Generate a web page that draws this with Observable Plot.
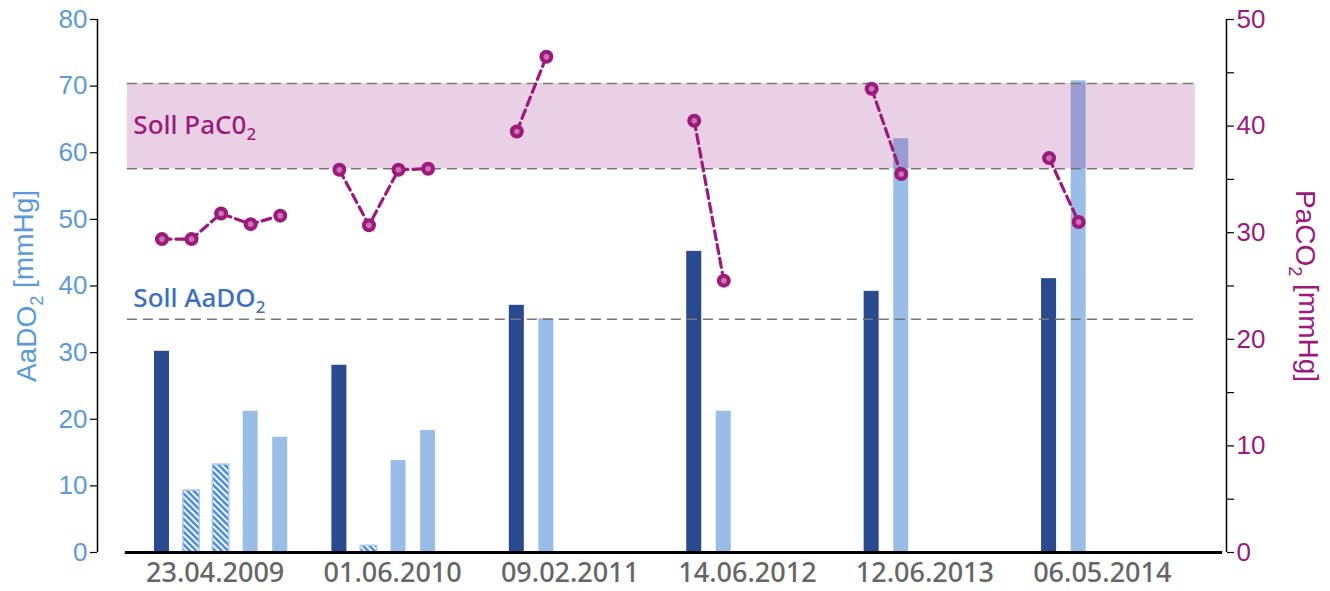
<!DOCTYPE html>
<html>
<head>
<meta charset="utf-8">
<script src="https://cdn.jsdelivr.net/npm/d3@7"></script>
<script src="https://cdn.jsdelivr.net/npm/@observablehq/plot@0.6"></script>
<style>
  html, body { margin: 0; padding: 0; background: #fff; }
  #chart svg { display: block; }
</style>
</head>
<body>
<div id="chart"></div>
<script>
// ---- data ----
const dates = ["23.04.2009", "01.06.2010", "09.02.2011", "14.06.2012", "12.06.2013", "06.05.2014"];
const visit = [0, 0, 0, 0, 0, 1, 1, 1, 1, 2, 2, 3, 3, 4, 4, 5, 5];
const slot  = [0, 1, 2, 3, 4, 0, 1, 2, 3, 0, 1, 0, 1, 0, 1, 0, 1];
const kind  = ["dark", "hatched", "hatched", "light", "light",
               "dark", "hatched", "light", "light",
               "dark", "light", "dark", "light", "dark", "light", "dark", "light"];
const aado2 = [30.2, 9.3, 13.2, 21.2, 17.3, 28.1, 1.0, 13.8, 18.3, 37.1, 35.1, 45.2, 21.2, 39.2, 62.1, 41.1, 70.8];
const paco2 = [29.4, 29.4, 31.8, 30.8, 31.6, 35.9, 30.7, 35.9, 36.0, 39.5, 46.5, 40.5, 25.5, 43.5, 35.5, 37.0, 31.0];
const sollAaDO2 = 35;
const sollPaCO2 = [36, 44];
const leftTicks = [0, 10, 20, 30, 40, 50, 60, 70, 80];
const rightTicks = [0, 5, 10, 15, 20, 25, 30, 35, 40, 45, 50];
const rightLabelStep = 10;

// ---- layout constants ----
const slotsPerVisit = 6;
const xDomain = [-2.18, 36.0];
const baseExtent = [-1.24, 35.87];
const refExtent = [-1.17, 34.95];
const labelOffset = 1.8;
const yMax = 80, y2Max = 50, k = yMax / y2Max;

const C = {
  dark: "#294a8e", light: "#99bde7", hatchBlue: "#4b8ee0", hatchBorder: "#aacaef",
  magenta: "#9c1a7c", inner: "#c976b3", leftText: "#5b9ad8", sollBlue: "#3d6fbf",
  xText: "#666666", band: "#9b2a87", ref: "#777777"
};

const data = visit.map((v, i) => ({
  visit: v, s: v * slotsPerVisit + slot[i], kind: kind[i], aado2: aado2[i], paco2: paco2[i] * k
}));
const solid = data.filter(d => d.kind !== "hatched");
const hatched = data.filter(d => d.kind === "hatched");
const dateLabels = dates.map((t, i) => ({t, x: i * slotsPerVisit + labelOffset}));

const uiFont = "'Noto Sans', 'Open Sans', sans-serif";
const axisFont = "'Liberation Sans', Arial, sans-serif";

const chart = Plot.plot({
  width: 1330,
  height: 591,
  marginLeft: 97,
  marginRight: 104,
  marginTop: 19,
  marginBottom: 39,
  style: {fontFamily: axisFont, fontSize: "26px", background: "#fff"},
  x: {type: "linear", domain: xDomain, axis: null},
  y: {domain: [0, yMax], axis: null},
  marks: [
    // bars
    Plot.rectY(solid, {
      x1: d => d.s - 0.254, x2: d => d.s + 0.254, y1: 0, y2: "aado2",
      fill: d => d.kind === "dark" ? C.dark : C.light
    }),
    Plot.rectY(hatched, {
      x1: d => d.s - 0.28, x2: d => d.s + 0.28, y1: 0, y2: "aado2",
      fill: "url(#hatch)", stroke: C.hatchBorder, strokeWidth: 1.5
    }),
    // target PaCO2 band
    Plot.rectY([sollPaCO2], {
      x1: refExtent[0], x2: refExtent[1], y1: d => d[0] * k, y2: d => d[1] * k,
      fill: C.band, fillOpacity: 0.22
    }),
    // dashed reference lines
    Plot.ruleY([sollPaCO2[0] * k, sollPaCO2[1] * k, sollAaDO2], {
      x1: refExtent[0], x2: refExtent[1], stroke: C.ref, strokeWidth: 1.6, strokeDasharray: "10,6"
    }),
    // baseline
    Plot.ruleY([0], {x1: baseExtent[0], x2: baseExtent[1], stroke: "#000", strokeWidth: 3}),
    // PaCO2 lines + dots
    Plot.line(data, {x: "s", y: "paco2", z: "visit", stroke: C.magenta, strokeWidth: 3.2, strokeDasharray: "9,5"}),
    Plot.dot(data, {x: "s", y: "paco2", r: 7, fill: C.magenta}),
    Plot.dot(data, {x: "s", y: "paco2", r: 2.8, fill: C.inner}),
    // annotations
    Plot.text(["Soll PaC0₂"], {
      x: refExtent[0], y: (sollPaCO2[0] + sollPaCO2[1]) / 2 * k, dx: 6, textAnchor: "start",
      fill: C.magenta, fontSize: 26, fontWeight: 500, fontFamily: uiFont
    }),
    Plot.text(["Soll AaDO₂"], {
      x: refExtent[0], y: sollAaDO2, dx: 6, dy: -21, textAnchor: "start",
      fill: C.sollBlue, fontSize: 26, fontWeight: 500, fontFamily: uiFont
    }),
    // x labels
    Plot.text(dateLabels, {
      x: "x", frameAnchor: "bottom", dy: 29, text: "t", fill: C.xText,
      fontSize: 27, fontWeight: 500, fontFamily: uiFont
    }),
    // left axis
    Plot.ruleX([xDomain[0]], {y1: 0, y2: yMax, stroke: "#000", strokeWidth: 1.5}),
    Plot.axisY({
      anchor: "left", ticks: leftTicks, tickSize: 7, tickPadding: 3, fill: C.leftText,
      stroke: "#000", strokeWidth: 1.2, fontSize: 26, label: null
    }),
    // right axis
    Plot.ruleX([xDomain[1]], {y1: 0, y2: yMax, stroke: "#000", strokeWidth: 1.5}),
    Plot.axisY({
      anchor: "right", ticks: rightTicks.map(v => v * k), tickSize: 7, tickPadding: 3,
      tickFormat: d => { const v = Math.round(d / k); return v % rightLabelStep === 0 ? String(v) : ""; },
      fill: C.magenta, stroke: "#000", strokeWidth: 1.2, fontSize: 26, label: null
    }),
    // axis titles
    Plot.text(["AaDO₂ [mmHg]"], {
      frameAnchor: "left", dx: -70, rotate: -90, textAnchor: "middle",
      fill: C.leftText, fontSize: 28, fontFamily: axisFont
    }),
    Plot.text(["PaCO₂ [mmHg]"], {
      frameAnchor: "right", dx: 78, rotate: 90, textAnchor: "middle",
      fill: C.magenta, fontSize: 28, fontFamily: axisFont
    })
  ]
});

// hatch pattern definition
const ns = "http://www.w3.org/2000/svg";
const defs = document.createElementNS(ns, "defs");
defs.innerHTML = `<pattern id="hatch" patternUnits="userSpaceOnUse" width="4.5" height="4.5" patternTransform="rotate(-45)">
  <rect width="4.5" height="4.5" fill="#ffffff"></rect>
  <rect width="2.6" height="4.5" fill="${C.hatchBlue}"></rect>
</pattern>`;
chart.insertBefore(defs, chart.firstChild);

// render "₂" as a real lowered, smaller "2" (kept as text)
chart.querySelectorAll("text, tspan").forEach(el => {
  if (el.children.length === 0 && el.textContent.includes("₂")) {
    const parts = el.textContent.split("₂");
    el.textContent = "";
    parts.forEach((p, i) => {
      if (p) el.appendChild(document.createTextNode(p));
      if (i < parts.length - 1) {
        const sub = document.createElementNS(ns, "tspan");
        sub.setAttribute("font-size", "65%");
        sub.setAttribute("dy", "0.35em");
        sub.textContent = "2";
        el.appendChild(sub);
        if (parts[i + 1]) {
          const back = document.createElementNS(ns, "tspan");
          back.setAttribute("dy", "-0.35em");
          back.textContent = parts[i + 1];
          el.appendChild(back);
          parts[i + 1] = "";
        }
      }
    });
  }
});

document.getElementById("chart").appendChild(chart);
</script>
</body>
</html>
